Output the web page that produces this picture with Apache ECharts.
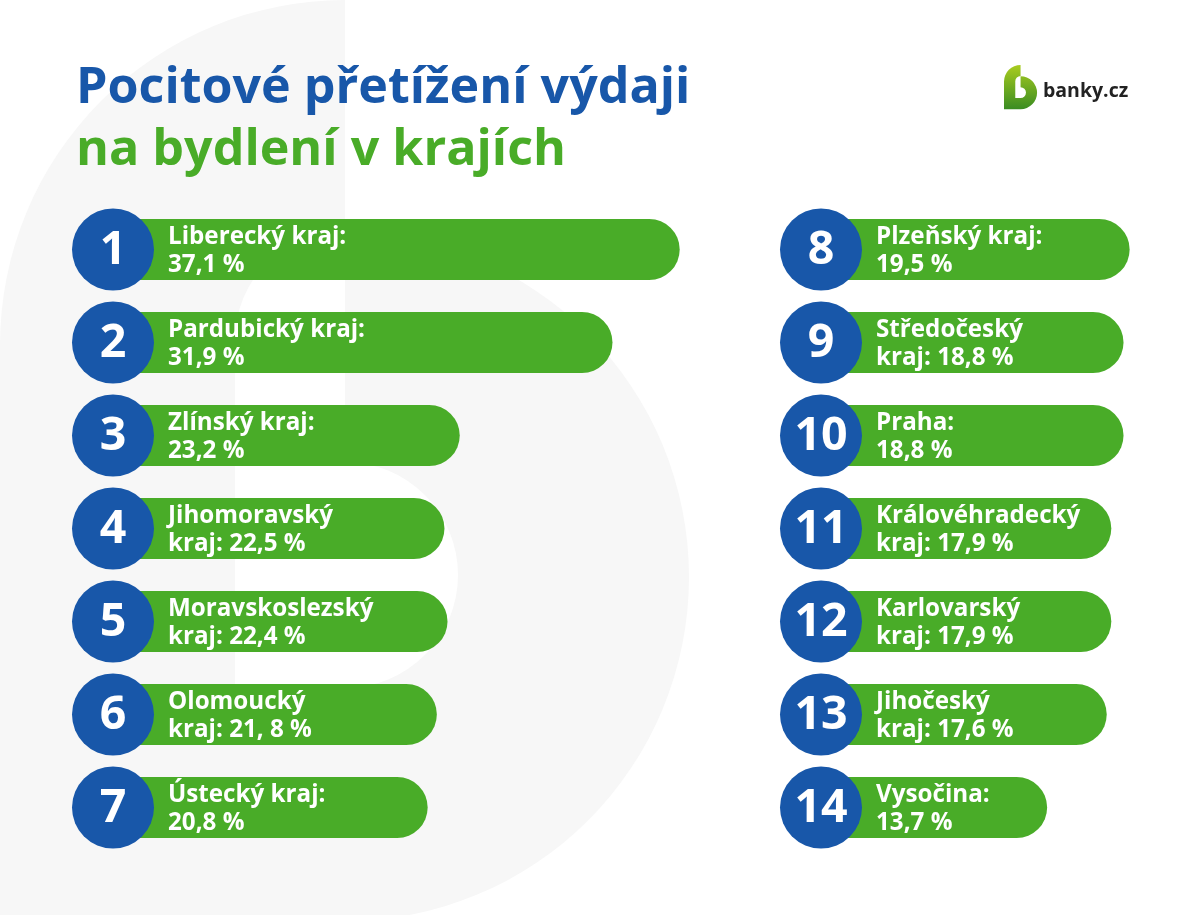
<!DOCTYPE html>
<html><head><meta charset="utf-8">
<style>html,body{margin:0;padding:0;background:#fff}#c{width:1200px;height:915px}</style>
<script src="https://cdn.jsdelivr.net/npm/echarts@6/dist/echarts.min.js"></script>
</head><body><div id="c"></div>
<script>
// Regions, printed labels, and bar lengths as drawn in the picture
// (the source's bars are not strictly proportional to the printed figures,
//  so the lengths are read from the picture, calibrated so that the longest bar = 37.1).
const leftRanks = ['1','2','3','4','5','6','7'];
const leftLabels = ['Liberecký kraj:\n37,1 %','Pardubický kraj:\n31,9 %','Zlínský kraj:\n23,2 %','Jihomoravský\nkraj: 22,5 %','Moravskoslezský\nkraj: 22,4 %','Olomoucký\nkraj: 21, 8 %','Ústecký kraj:\n20,8 %'];
const leftBarLengths = [37.1,32.7,22.7,21.7,21.9,21.2,20.6];
const rightRanks = ['8','9','10','11','12','13','14'];
const rightLabels = ['Plzeňský kraj:\n19,5 %','Středočeský\nkraj: 18,8 %','Praha:\n18,8 %','Královéhradecký\nkraj: 17,9 %','Karlovarský\nkraj: 17,9 %','Jihočeský\nkraj: 17,6 %','Vysočina:\n13,7 %'];
const rightBarLengths = [20.2,19.8,19.8,19.0,19.0,18.7,14.8];
const titleLine1 = 'Pocitové přetížení výdaji';
const titleLine2 = 'na bydlení v krajích';
const brand = 'banky.cz';

const GREEN = '#49ac28', BLUE = '#1857a9', FONT = '"Open Sans", sans-serif';
const LOGO = 'M345 0A345 345 0 0 0 0 345L0 921L345 921A344 344 0 0 0 689 577A344 344 0 0 0 345 233L345 462A113 113 0 0 1 345 688L235 688L235 340A110 110 0 0 1 345 230Z';
echarts.graphic.registerShape('logoB', echarts.graphic.extendPath(LOGO, {}));

function barSeries(idx, lengths, labels){
  return {type:'bar', xAxisIndex:idx, yAxisIndex:idx, barWidth:61, z:2,
    data:lengths.map((v,i)=>({value:v, label:{formatter:labels[i]}})),
    itemStyle:{color:GREEN, borderRadius:[0,30.5,30.5,0]},
    label:{show:true, position:[55,4], color:'#fff', fontFamily:FONT, fontWeight:700, fontSize:24.2, lineHeight:28, align:'left', verticalAlign:'top'},
    silent:true, animation:false};
}
function rankSeries(idx, ranks){
  return {type:'scatter', xAxisIndex:idx, yAxisIndex:idx, symbol:'circle', symbolSize:82, clip:false, z:3,
    data:ranks.map((r,i)=>({value:[0,i], label:{formatter:r}})),
    itemStyle:{color:BLUE, opacity:1},
    label:{show:true, position:'inside', offset:[0,1], color:'#fff', fontFamily:FONT, fontWeight:700, fontSize:46.5},
    silent:true, animation:false};
}
const chart = echarts.init(document.getElementById('c'), null, {renderer:'canvas', width:1200, height:915});
chart.setOption({
  animation:false, backgroundColor:'#fff',
  title:[
    {text:titleLine1, left:76, top:56, padding:0, textStyle:{color:BLUE, fontFamily:FONT, fontWeight:700, fontSize:50.2, lineHeight:66}},
    {text:titleLine2, left:76, top:118, padding:0, textStyle:{color:GREEN, fontFamily:FONT, fontWeight:700, fontSize:50.2, lineHeight:66}},
    {text:brand, left:1043, top:77, padding:0, textStyle:{color:'#222', fontFamily:FONT, fontWeight:700, fontSize:19.5, lineHeight:28}}
  ],
  graphic:[
    {type:'logoB', z:0, silent:true, x:0, y:0, style:{fill:'#f7f7f7'}},
    {type:'logoB', z:0, silent:true, x:1004, y:65, scaleX:0.048, scaleY:0.048,
     style:{fill:new echarts.graphic.LinearGradient(0,0,0,1,[{offset:0,color:'#a9cc1f'},{offset:1,color:'#3a8c22'}])}}
  ],
  grid:[
    {left:113, width:611, top:203, height:651},
    {left:821, width:366.7, top:203, height:651}
  ],
  xAxis:[
    {type:'value', gridIndex:0, min:0, max:40, show:false},
    {type:'value', gridIndex:1, min:0, max:24, show:false}
  ],
  yAxis:[
    {type:'category', gridIndex:0, inverse:true, data:leftRanks, show:false},
    {type:'category', gridIndex:1, inverse:true, data:rightRanks, show:false}
  ],
  series:[
    barSeries(0,leftBarLengths,leftLabels), rankSeries(0,leftRanks),
    barSeries(1,rightBarLengths,rightLabels), rankSeries(1,rightRanks)
  ]
});
</script></body></html>
